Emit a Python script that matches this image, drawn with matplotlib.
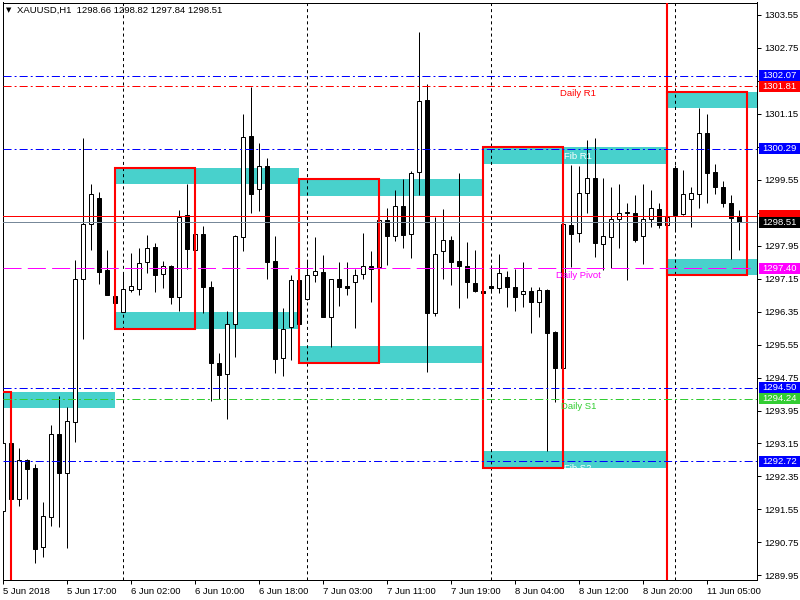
import matplotlib
matplotlib.use('Agg')
import matplotlib.pyplot as plt
from matplotlib.patches import Rectangle
from matplotlib.transforms import IdentityTransform
import numpy as np

plt.rcParams['font.family'] = ['Liberation Sans', 'DejaVu Sans']
plt.rcParams['lines.scale_dashes'] = False

# ---------------- data ----------------
opens = [1291.51, 1293.16, 1291.80, 1292.75, 1292.56, 1290.63, 1291.36, 1293.38, 1292.44, 1293.68,
         1297.13, 1298.46, 1299.09, 1297.36, 1296.73, 1296.33, 1296.86, 1296.89, 1297.54, 1297.91,
         1297.25, 1297.45, 1296.71, 1298.69, 1297.83, 1298.23, 1296.94, 1295.10, 1294.83, 1296.04,
         1298.16, 1300.60, 1299.31, 1299.88, 1297.57, 1295.22, 1295.97, 1297.11, 1296.65, 1297.23,
         1297.31, 1296.21, 1297.13, 1296.96, 1297.06, 1297.25, 1297.45, 1297.42, 1298.56, 1298.17,
         1298.90, 1298.22, 1299.72, 1301.48, 1296.31, 1297.81, 1298.08, 1297.57, 1297.45, 1297.04,
         1296.84, 1296.97, 1296.91, 1297.18, 1296.95, 1296.77, 1296.84, 1296.57, 1296.87, 1295.85,
         1294.97, 1298.45, 1298.25, 1299.22, 1299.58, 1297.99, 1298.16, 1298.59, 1298.74, 1298.75,
         1298.18, 1298.59, 1298.83, 1298.44, 1299.82, 1298.71, 1299.07, 1299.19, 1300.67, 1299.72,
         1299.37, 1298.98, 1298.66]
highs = [1293.72, 1293.45, 1293.04, 1292.78, 1292.65, 1291.73, 1293.60, 1294.29, 1294.03, 1297.60,
         1300.56, 1299.45, 1299.25, 1297.84, 1296.75, 1297.31, 1297.76, 1297.88, 1298.20, 1298.00,
         1297.57, 1297.47, 1298.81, 1299.45, 1298.81, 1298.42, 1297.09, 1295.35, 1296.36, 1298.20,
         1301.14, 1301.80, 1300.43, 1300.06, 1298.18, 1296.44, 1297.23, 1297.21, 1297.60, 1298.15,
         1297.71, 1297.15, 1297.55, 1297.55, 1297.37, 1298.25, 1297.82, 1299.15, 1298.85, 1299.30,
         1299.56, 1299.75, 1303.12, 1301.86, 1298.65, 1298.83, 1298.18, 1299.71, 1298.03, 1297.84,
         1297.00, 1297.48, 1297.74, 1297.34, 1297.37, 1297.56, 1296.94, 1296.94, 1296.90, 1295.87,
         1298.50, 1299.90, 1299.88, 1300.51, 1300.55, 1299.59, 1299.36, 1299.44, 1298.99, 1299.17,
         1299.44, 1299.30, 1298.97, 1298.97, 1299.90, 1299.78, 1299.38, 1301.28, 1301.15, 1299.93,
         1299.51, 1299.17, 1298.82]
lows = [1290.73, 1290.96, 1291.64, 1291.81, 1290.26, 1290.40, 1291.15, 1291.13, 1290.62, 1293.19,
        1295.69, 1297.84, 1297.02, 1296.75, 1296.39, 1296.33, 1296.83, 1296.75, 1297.28, 1296.83,
        1296.91, 1296.52, 1296.37, 1297.37, 1296.95, 1296.32, 1294.19, 1294.22, 1293.75, 1295.24,
        1297.82, 1298.75, 1298.79, 1297.15, 1294.85, 1294.79, 1295.17, 1296.05, 1296.62, 1297.07,
        1296.21, 1295.50, 1296.48, 1296.75, 1295.96, 1297.15, 1296.59, 1296.83, 1297.48, 1298.06,
        1297.90, 1297.65, 1299.17, 1294.88, 1296.25, 1297.13, 1297.00, 1296.43, 1296.67, 1296.83,
        1296.71, 1296.81, 1296.81, 1296.47, 1296.37, 1296.45, 1295.84, 1296.22, 1292.97, 1294.15,
        1294.90, 1297.44, 1298.04, 1298.75, 1297.68, 1297.35, 1297.40, 1297.88, 1297.11, 1298.04,
        1297.50, 1298.41, 1298.37, 1298.34, 1298.28, 1298.69, 1298.41, 1298.87, 1298.99, 1299.19,
        1298.89, 1297.62, 1297.84]
closes = [1293.16, 1291.80, 1292.75, 1292.54, 1290.60, 1291.39, 1293.38, 1292.44, 1293.70, 1297.13,
          1298.46, 1299.19, 1297.31, 1296.75, 1296.56, 1296.89, 1296.96, 1297.52, 1297.88, 1297.24,
          1297.45, 1296.71, 1298.65, 1297.87, 1298.23, 1296.94, 1295.09, 1294.82, 1296.05, 1298.18,
          1300.59, 1299.21, 1299.88, 1297.54, 1295.20, 1295.92, 1297.11, 1296.05, 1297.23, 1297.32,
          1296.21, 1297.13, 1296.94, 1296.93, 1297.24, 1297.45, 1297.37, 1298.56, 1298.19, 1298.90,
          1298.21, 1299.71, 1301.45, 1296.31, 1297.74, 1298.08, 1297.54, 1297.45, 1297.06, 1296.85,
          1296.79, 1296.91, 1297.28, 1296.94, 1296.71, 1296.84, 1296.57, 1296.87, 1295.84, 1294.97,
          1298.46, 1298.22, 1299.22, 1299.58, 1298.00, 1298.18, 1298.59, 1298.75, 1298.76, 1298.08,
          1298.59, 1298.85, 1298.44, 1298.65, 1298.69, 1299.19, 1299.22, 1300.67, 1299.71, 1299.37,
          1298.99, 1298.62, 1298.51]

x_tick_bars = [0, 8, 16, 24, 32, 40, 48, 56, 64, 72, 80, 88]
x_tick_labels = ['5 Jun 2018', '5 Jun 17:00', '6 Jun 02:00', '6 Jun 10:00', '6 Jun 18:00',
                 '7 Jun 03:00', '7 Jun 11:00', '7 Jun 19:00', '8 Jun 04:00', '8 Jun 12:00',
                 '8 Jun 20:00', '11 Jun 05:00']
y_ticks = [1289.95, 1290.75, 1291.55, 1292.35, 1293.15, 1293.95, 1294.75, 1295.55, 1296.35,
           1297.15, 1297.95, 1298.75, 1299.55, 1300.35, 1301.15, 1301.95, 1302.75, 1303.55]
# labels hidden behind the price tags in the reference are left blank
y_tick_labels = ['1289.95', '1290.75', '1291.55', '1292.35', '1293.15', '1293.95', '1294.75',
                 '1295.55', '1296.35', '1297.15', '1297.95', '', '1299.55', '', '1301.15', '',
                 '1302.75', '1303.55']

day_separators = [15, 38, 61, 84]
week_separator = 83

# pivot zones per day (start bar, end bar, low, high)
zone_start = [-9, 14, 37, 60, 83]
zone_end = [14, 37, 60, 83, 96]
upper_lo = [1294.02, 1299.45, 1299.16, 1299.93, 1301.29]
upper_hi = [1294.41, 1299.84, 1299.56, 1300.34, 1301.68]
lower_lo = [np.nan, 1295.93, 1295.11, 1292.56, 1297.24]
lower_hi = [np.nan, 1296.34, 1295.51, 1292.97, 1297.62]
# opening-range boxes (red)
box_start = [-9, 14, 37, 60, 83]
box_end = [1, 24, 47, 70, 93]
box_top = [1294.41, 1299.84, 1299.56, 1300.34, 1301.68]
box_bottom = [1289.00, 1295.93, 1295.11, 1292.56, 1297.24]

# horizontal levels
level_prices = [1302.07, 1301.81, 1300.29, 1297.40, 1294.50, 1294.24, 1292.72]
level_colors = ['#0000FF', '#FF0000', '#0000FF', '#FF00FF', '#0000FF', '#32CD32', '#0000FF']
ask_price = 1298.67
bid_price = 1298.51

level_texts = ['Daily R1', 'Fib R1', 'Daily Pivot', 'Daily S1', 'Fib S2']
level_text_prices = [1301.81, 1300.29, 1297.40, 1294.24, 1292.72]
level_text_colors = ['#FF0000', '#FFFFFF', '#FF00FF', '#32CD32', '#FFFFFF']
level_text_bar = 71.9

price_labels = [1302.07, 1301.81, 1300.29, 1298.67, 1298.51, 1297.40, 1294.50, 1294.24, 1292.72]
price_label_colors = ['#0000FF', '#FF0000', '#0000FF', '#FF0000', '#000000', '#FF00FF',
                      '#0000FF', '#32CD32', '#0000FF']
# the ask tag is mostly covered by the bid tag, only its top shows
price_label_visible_text = [True, True, True, False, True, True, True, True, True]

title_text = 'XAUUSD,H1  1298.66 1298.82 1297.84 1298.51'

# ---------------- drawing ----------------
PX = 0.72  # one pixel in points
FS = 6.8

fig = plt.figure(figsize=(8, 6), dpi=100)
ax = fig.add_axes([2.5 / 800, 20.5 / 600, 754.5 / 800, 577 / 600])
ax.set_xlim(-0.0625, 94.25)
ax.set_ylim(1289.853, 1303.841)

o = np.array(opens); h = np.array(highs); l = np.array(lows); c = np.array(closes)
xs = np.arange(len(o))
up = c >= o

# zones
for s, e, lo, hi in zip(zone_start, zone_end, upper_lo, upper_hi):
    ax.add_patch(Rectangle((s, lo), e - s, hi - lo, facecolor='#48D1CC', edgecolor='none', zorder=1))
for s, e, lo, hi in zip(zone_start, zone_end, lower_lo, lower_hi):
    if not np.isnan(lo):
        ax.add_patch(Rectangle((s, lo), e - s, hi - lo, facecolor='#48D1CC', edgecolor='none', zorder=1))

# day separators
for b in day_separators:
    ax.axvline(b, color='black', lw=PX, ls=(0, (2.2, 2.2)), zorder=2)

# candles
ax.vlines(xs, l, h, color='black', lw=PX, zorder=3)
bottoms = np.minimum(o, c)
heights = np.maximum(np.abs(c - o), 0.025)
ax.bar(xs[up], heights[up], bottom=bottoms[up], width=0.5, color='white',
       edgecolor='black', linewidth=PX, zorder=4)
ax.bar(xs[~up], heights[~up], bottom=bottoms[~up], width=0.5, color='black',
       edgecolor='black', linewidth=PX, zorder=4)

# red boxes
for s, e, t, b in zip(box_start, box_end, box_top, box_bottom):
    ax.add_patch(Rectangle((s, b), e - s, t - b, fill=False, edgecolor='#FF0000', lw=1.5, zorder=5))
ax.axvline(week_separator, color='#FF0000', lw=1.5, zorder=5)

# levels
for p, col in zip(level_prices, level_colors):
    if col == '#FF00FF':
        ls = (0, (13, 4.5))
    else:
        ls = (0, (5.8, 2.2, 1.4, 2.2))
    ax.axhline(p, color=col, lw=PX, ls=ls, zorder=6)
ax.axhline(ask_price, color='#FF0000', lw=PX, zorder=6)
ax.axhline(bid_price, color='#778899', lw=PX, zorder=6)

for t, p, col in zip(level_texts, level_text_prices, level_text_colors):
    ax.annotate(t, xy=(level_text_bar, p), xytext=(0, -2.2), textcoords='offset points',
                ha='center', va='top', color=col, fontsize=FS, zorder=7)

# axes styling
for sp in ax.spines.values():
    sp.set_linewidth(PX)
    sp.set_color('black')
ax.yaxis.tick_right()
ax.set_yticks(y_ticks)
ax.set_yticklabels(y_tick_labels)
ax.set_xticks(x_tick_bars)
ax.set_xticklabels(x_tick_labels, ha='left')
ax.tick_params(axis='both', direction='out', length=3, width=PX, labelsize=FS, colors='black')
ax.tick_params(axis='y', pad=2.5)
ax.tick_params(axis='x', pad=2.5)

# title
fig.text(6 / 800, 1 - 10.5 / 600, '\u25BC', fontsize=5, family='DejaVu Sans', va='center', ha='left')
fig.text(17 / 800, 1 - 10.5 / 600, title_text, fontsize=FS, va='center', ha='left')

# right side price labels
for p, col, vis in zip(price_labels, price_label_colors, price_label_visible_text):
    yd = ax.transData.transform((0, p))[1]
    fig.add_artist(Rectangle((759, yd - 5.5), 41, 11, transform=IdentityTransform(),
                             facecolor=col, edgecolor='none', zorder=20))
    if vis:
        fig.text(762 / 800, yd / 600, '%.2f' % p, color='white', fontsize=FS,
                 va='center', ha='left', zorder=21)

fig.savefig('out.png', dpi=100)
